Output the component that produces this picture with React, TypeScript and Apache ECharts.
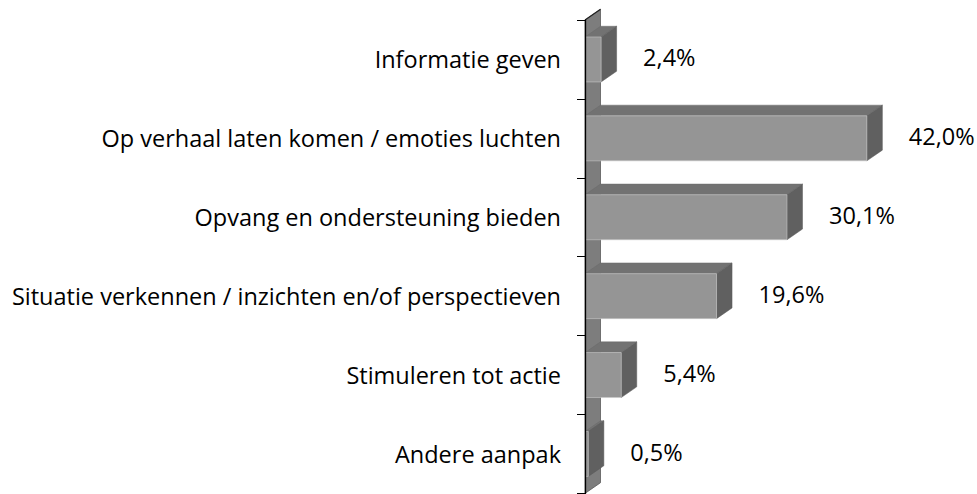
import React, { useEffect, useRef } from 'react';
import * as echarts from 'echarts';

const categories = [
  'Informatie geven',
  'Op verhaal laten komen / emoties luchten',
  'Opvang en ondersteuning bieden',
  'Situatie verkennen / inzichten en/of perspectieven',
  'Stimuleren tot actie',
  'Andere aanpak',
];
const values = [2.4, 42.0, 30.1, 19.6, 5.4, 0.5];

const DX = 15.5;
const DY = -10.7;
const FONT = 'Open Sans';
const FONT_SIZE = 23.5;

export default function App() {
  const ref = useRef<HTMLDivElement>(null);
  useEffect(() => {
    const chart = echarts.init(ref.current!, null, { renderer: 'svg' });
    chart.setOption({
      animation: false,
      backgroundColor: '#ffffff',
      grid: { left: 585, top: 20, width: 302, height: 473.4 },
      xAxis: { type: 'value', min: 0, max: 45, show: false },
      yAxis: {
        type: 'category',
        data: categories,
        inverse: true,
        z: 10,
        axisLine: { show: true, lineStyle: { color: '#000', width: 1.3 } },
        axisTick: { show: true, length: 8, lineStyle: { color: '#000', width: 1 } },
        axisLabel: {
          fontFamily: FONT,
          fontSize: FONT_SIZE,
          color: '#000',
          margin: 24,
          padding: [4, 0, 0, 0],
        },
        splitLine: { show: false },
      },
      series: [
        {
          type: 'custom',
          z: 1,
          data: [[0, 0]],
          renderItem: (params: any) => {
            const cs = params.coordSys;
            const x = cs.x, y = cs.y, h = cs.height;
            return {
              type: 'group',
              children: [
                {
                  type: 'polygon',
                  shape: { points: [[x, y], [x + DX, y + DY], [x + DX, y + h + DY], [x, y + h]] },
                  style: { fill: '#7d7d7d', stroke: '#5a5a5a', lineWidth: 0.8 },
                },
                {
                  type: 'line',
                  shape: { x1: x, y1: y, x2: x + DX, y2: y + DY },
                  style: { stroke: '#222', lineWidth: 1.2 },
                },
              ],
            };
          },
        },
        {
          type: 'custom',
          z: 3,
          data: values.map((v, i) => [v, i]),
          encode: { x: 0, y: 1 },
          renderItem: (params: any, api: any) => {
            const v = api.value(0);
            const i = api.value(1);
            const p0 = api.coord([0, i]);
            const p1 = api.coord([v, i]);
            const band = api.size([0, 1])[1];
            const bh = band * 0.57;
            const x0 = p0[0];
            const x1 = p1[0];
            const yt = p0[1] - bh / 2;
            const yb = p0[1] + bh / 2;
            return {
              type: 'group',
              children: [
                {
                  type: 'polygon',
                  shape: { points: [[x0, yt], [x1, yt], [x1 + DX, yt + DY], [x0 + DX, yt + DY]] },
                  style: { fill: '#727272', stroke: '#6a6a6a', lineWidth: 0.5 },
                },
                {
                  type: 'polygon',
                  shape: { points: [[x1, yt], [x1 + DX, yt + DY], [x1 + DX, yb + DY], [x1, yb]] },
                  style: { fill: '#606060', stroke: '#5a5a5a', lineWidth: 0.5 },
                },
                {
                  type: 'rect',
                  shape: { x: x0, y: yt, width: x1 - x0, height: bh },
                  style: { fill: '#959595', stroke: '#c8c8c8', lineWidth: 0.6 },
                },
                {
                  type: 'text',
                  x: x1 + 42,
                  y: p0[1] - 2,
                  style: {
                    text: v.toFixed(1).replace('.', ',') + '%',
                    fontFamily: FONT,
                    fontSize: FONT_SIZE,
                    fill: '#000',
                    align: 'left',
                    verticalAlign: 'middle',
                  },
                },
              ],
            };
          },
        },
      ],
    });
    return () => chart.dispose();
  }, []);
  return (
    <div
      ref={ref}
      style={{ position: 'fixed', left: 0, top: 0, width: 977, height: 494, background: '#fff' }}
    />
  );
}
